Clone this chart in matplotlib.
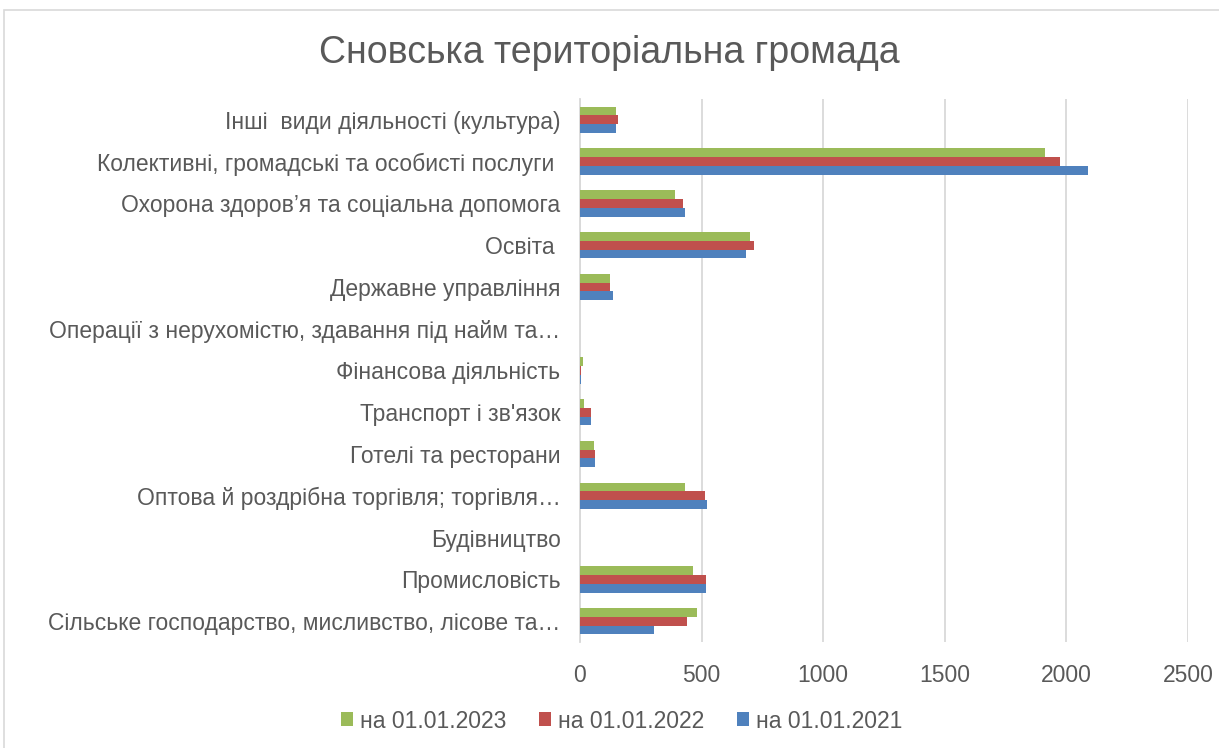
import numpy as np
import matplotlib.pyplot as plt
from matplotlib.patches import Rectangle

plt.rcParams['font.family'] = ['Liberation Sans', 'DejaVu Sans']

categories = [
    'Сільське господарство, мисливство, лісове та…',
    'Промисловість',
    'Будівництво',
    'Оптова й роздрібна торгівля; торгівля…',
    'Готелі та ресторани',
    'Транспорт і зв\'язок',
    'Фінансова діяльність',
    'Операції з нерухомістю, здавання під найм та…',
    'Державне управління',
    'Освіта ',
    'Охорона здоров’я та соціальна допомога',
    'Колективні, громадські та особисті послуги ',
    'Інші  види діяльності (культура)',
]
v2021 = [305, 520, 0, 522, 63, 47, 6, 0, 134, 681, 430, 2088, 146]
v2022 = [439, 520, 0, 514, 63, 47, 6, 0, 125, 714, 422, 1972, 156]
v2023 = [480, 464, 0, 430, 56, 15, 13, 0, 125, 697, 390, 1914, 146]

series = [
    ('на 01.01.2021', v2021, '#4F81BD'),
    ('на 01.01.2022', v2022, '#C0504D'),
    ('на 01.01.2023', v2023, '#9BBB59'),
]

text_col = '#595959'
fig = plt.figure(figsize=(12.19, 7.48), dpi=100)
ax = fig.add_axes([580/1219, 1-642/748, 608/1219, 543/748])

y = np.arange(len(categories))
h = 0.21
for i, (lab, vals, col) in enumerate(series):
    ax.barh(y + (i - 1) * h, vals, height=h, color=col, label=lab, zorder=3)

ax.set_xlim(0, 2500)
ax.set_ylim(-0.5, len(categories) - 0.5)
ax.set_xticks(np.arange(0, 2501, 500))
ax.set_yticks(y)
ax.set_yticklabels(categories)
ax.tick_params(axis='both', length=0, labelsize=16.5, colors=text_col)
ax.tick_params(axis='x', pad=16)
ax.tick_params(axis='y', pad=14)
ax.grid(axis='x', color='#D9D9D9', linewidth=1.3, zorder=0)
for s in ['top', 'right', 'bottom']:
    ax.spines[s].set_visible(False)
ax.spines['left'].set_color('#D9D9D9')
ax.spines['left'].set_linewidth(1.3)

fig.text(0.5, 1-53/748, 'Сновська територіальна громада', ha='center', va='center',
         fontsize=27, color=text_col)

handles, labels = ax.get_legend_handles_labels()
fig.legend(handles[::-1], labels[::-1], loc='center', bbox_to_anchor=(0.51, 1-721/748),
           ncol=3, frameon=False, fontsize=16.5, labelcolor=text_col,
           handlelength=0.55, handleheight=0.55, handletextpad=0.3, columnspacing=1.4)

fig.patches.append(Rectangle((4/1219, -0.1), 1.2, 1 - 10/748 + 0.1, transform=fig.transFigure,
                             fill=False, edgecolor='#D9D9D9', linewidth=1.2))

fig.savefig('out.png', dpi=100)
